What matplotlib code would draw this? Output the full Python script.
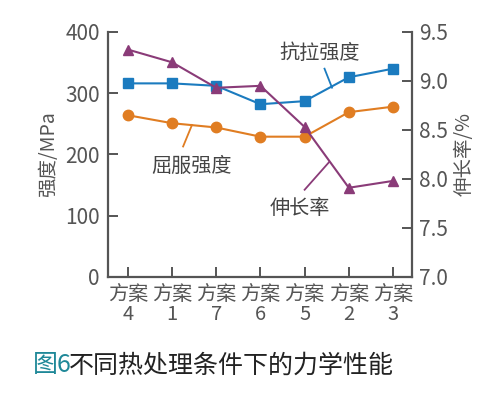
import matplotlib
matplotlib.use("Agg")
import matplotlib.pyplot as plt

plt.rcParams['font.family'] = ['Noto Sans CJK SC', 'DejaVu Sans']

categories = ["方案\n4", "方案\n1", "方案\n7", "方案\n6", "方案\n5", "方案\n2", "方案\n3"]
tensile = [316, 316, 312, 282, 287, 326, 340]
yield_s = [264, 251, 244, 229, 229, 269, 278]
elong = [9.32, 9.19, 8.93, 8.95, 8.53, 7.91, 7.98]
left_ticks = [0, 100, 200, 300, 400]
right_ticks = [7.0, 7.5, 8.0, 8.5, 9.0, 9.5]

blue = '#1b7bbf'
orange = '#e07d22'
purple = '#8a3b78'
axc = '#555555'
txc = '#555555'

fig = plt.figure(figsize=(5, 3.94), dpi=100)
ax = fig.add_axes([0.216, 0.297, 0.608, 0.622])
ax2 = ax.twinx()

x = list(range(len(categories)))
ax.plot(x, tensile, color=blue, marker='s', markersize=7.5, lw=1.5, zorder=3)
ax.plot(x, yield_s, color=orange, marker='o', markersize=7.5, lw=1.5, zorder=3)
ax2.plot(x, elong, color=purple, marker='^', markersize=7.5, lw=1.5, zorder=3)

ax.set_xlim(-0.45, 6.43)
ax.set_ylim(0, 400)
ax2.set_ylim(7.0, 9.5)
ax.set_xticks(x)
ax.set_xticklabels(categories, linespacing=0.95)
ax.set_yticks(left_ticks)
ax2.set_yticks(right_ticks)
ax2.set_yticklabels([f"{v:.1f}" for v in right_ticks])

for a in (ax, ax2):
    for s in a.spines.values():
        s.set_visible(False)
ax.spines['left'].set_visible(True)
ax.spines['bottom'].set_visible(True)
ax2.spines['right'].set_visible(True)
for s in (ax.spines['left'], ax.spines['bottom'], ax2.spines['right']):
    s.set_color(axc)
    s.set_linewidth(1.6)

ax.tick_params(axis='both', direction='in', length=7, width=1.4, color=axc,
               labelsize=15, labelcolor=txc)
ax.tick_params(axis='x', pad=5, labelsize=14.5)
ax.tick_params(axis='y', pad=6)
ax2.tick_params(axis='y', direction='in', length=7, width=1.4, color=axc,
                labelsize=15, labelcolor=txc, pad=5)

ax.set_ylabel("强度/MPa", fontsize=14, color=txc, labelpad=4)
ax2.set_ylabel("伸长率/%", fontsize=14, color=txc, labelpad=4)

# annotations
ax.text(4.35, 365, "抗拉强度", fontsize=14.5, color='#444444', ha='center', va='center')
ax.plot([4.45, 4.62], [340, 309], color=blue, lw=1.3)
ax.text(1.45, 180, "屈服强度", fontsize=14.5, color='#444444', ha='center', va='center')
ax.plot([1.25, 1.45], [213, 248], color=orange, lw=1.3)
ax2.text(3.9, 7.7, "伸长率", fontsize=14.5, color='#444444', ha='center', va='center')
ax2.plot([4.0, 4.55], [7.89, 8.17], color=purple, lw=1.3)

fig.text(0.066, 0.073, "图6", fontsize=18, color='#1f8898', ha='left', va='center')
fig.text(0.137, 0.073, "不同热处理条件下的力学性能", fontsize=18, color='#222222', ha='left', va='center')

fig.savefig("out.png", dpi=100)
